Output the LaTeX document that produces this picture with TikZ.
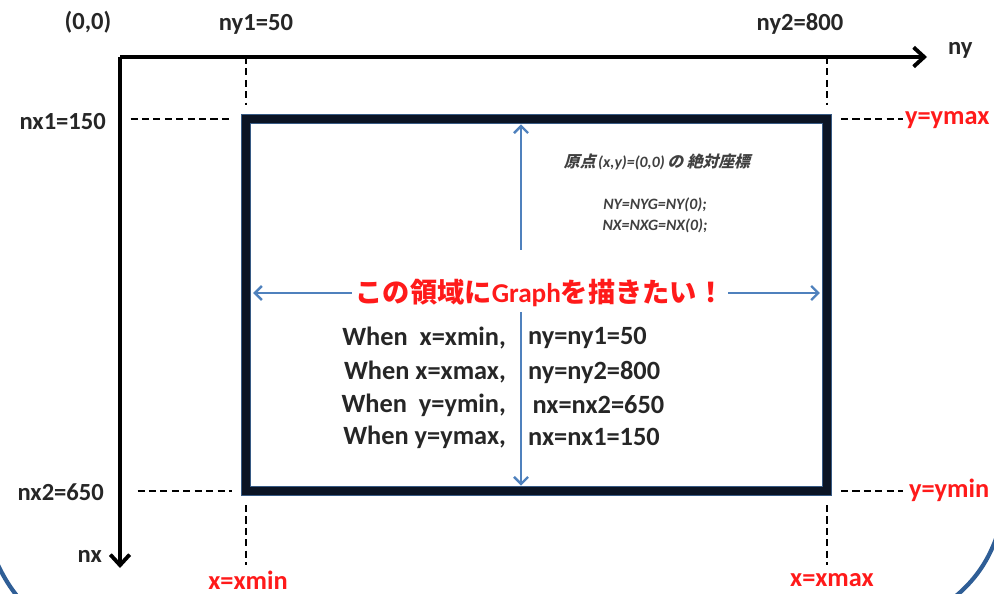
\documentclass[tikz,border=0pt]{standalone}
\usepackage{fontspec}
\setmainfont{Carlito}
\newfontfamily\jp{Noto Sans CJK JP}
\newfontfamily\jpit[FakeSlant=0.25]{Noto Sans CJK JP}
\usepackage{xcolor}
\usetikzlibrary{arrows.meta}
\definecolor{frameblue}{HTML}{2F5E96}
\definecolor{arrowblue}{HTML}{4F81BD}
\definecolor{rectdark}{HTML}{0B1424}
\definecolor{labelred}{HTML}{FF1A1A}

\begin{document}
\begin{tikzpicture}[
                    x=0.02cm, y=-0.02cm,
                    lbl/.style={font=\bfseries\fontsize{14}{16}\selectfont, text=black!85, inner sep=1pt},
                    redlbl/.style={font=\bfseries\fontsize{15}{17}\selectfont, text=labelred, inner sep=1pt},
                    cond/.style={font=\bfseries\fontsize{15}{17}\selectfont, text=black!85, inner sep=1pt},
                    note/.style={font=\bfseries\itshape\fontsize{9}{11}\selectfont, text=black!75, inner sep=1pt},
                    goal style/.style={font=\bfseries\fontsize{15.5}{18}\selectfont, text=labelred, inner sep=2pt},
                    axis/.style={draw=black, line width=2.2pt, -{Straight Barb[length=6pt,width=11pt,line width=2.2pt]}},
                    guide/.style={draw=black, line width=1.4pt, dash pattern=on 4pt off 2.5pt},
                    blue arrow/.style={draw=arrowblue, line width=1.4pt, -{Straight Barb[length=4pt,width=8pt,line width=1.4pt]}},
                    frame/.style={draw=frameblue, line width=2.4pt}
                ]
    \useasboundingbox (0,0) rectangle (994,594);

    \begin{scope}
        \clip (0,0) rectangle (994,594);
        \draw[frame] (-6,556) .. controls (2,575) and (10,588) .. (22,602);
        \draw[frame] (1002,520) .. controls (992,556) and (978,580) .. (946,604);
    \end{scope}

    \coordinate (o) at (120,57);
    \coordinate (yend) at (927,57);
    \coordinate (xend) at (120,568);
    \coordinate (tl) at (246,119);
    \coordinate (br) at (827,491);

    \draw[axis] (o) -- (yend);
    \draw[axis] (o) -- (xend);

    \draw[guide] (tl |- o) -- ([yshift=8]tl);
    \draw[guide] (br |- o) -- ([yshift=8]br |- tl);
    \draw[guide] ([yshift=-8]tl |- br) -- ++(0,60);
    \draw[guide] ([yshift=-8]br) -- ++(0,60);
    \draw[guide] ([xshift=6]o |- tl) -- ([xshift=-8]tl);
    \draw[guide] ([xshift=10]o |- br) -- ([xshift=-8]tl |- br);
    \draw[guide] ([xshift=8]br |- tl) -- ++(62,0);
    \draw[guide] ([xshift=8]br) -- ++(62,0);

    \draw[line width=6pt, arrowblue!70!black] (tl) rectangle (br);
    \draw[line width=4.4pt, rectdark] (tl) rectangle (br);

    \node[lbl] (orig) at (88,22) {(0,0)};
    \node[lbl] (ny1) at (256,24) {ny1=50};
    \node[lbl] (ny2) at (800,24) {ny2=800};
    \node[lbl, anchor=west] (nyname) at (946,50) {ny};
    \node[lbl, anchor=east] (nx1) at (108,122) {nx1=150};
    \node[lbl, anchor=east] (nx2) at (106,492) {nx2=650};
    \node[lbl, anchor=east] (nxname) at (104,556) {nx};
    \node[redlbl, anchor=west] (ymax) at (903,120) {y=ymax};
    \node[redlbl, anchor=west] (ymin) at (907,490) {y=ymin};
    \node[redlbl] (xmin) at (248,580) {x=xmin};
    \node[redlbl] (xmax) at (832,580) {x=xmax};

    \node[note] (origin) at (657,162) {{\jpit 原点}\,(x,y)=(0,0)\,{\jpit の 絶対座標}};
    \node[note] (nyg) at (655,205) {NY=NYG=NY(0);};
    \node[note] (nxg) at (655,226) {NX=NXG=NX(0);};

    \node[goal style] (goal) at (540,293) {\jp この領域に{\rmfamily Graph}を描きたい！};

    \coordinate (up) at (521,250);
    \coordinate (down) at (521,312);
    \draw[blue arrow] (up) -- ([yshift=-3]up |- tl);
    \draw[blue arrow] (down) -- ([yshift=3]down |- br);
    \draw[blue arrow] (goal.west) -- ([xshift=4]tl |- goal);
    \draw[blue arrow] (goal.east) -- ([xshift=-4]br |- goal);

    \foreach \y/\when/\val [count=\i] in {338/{When\ \ x=xmin,}/{ny=ny1=50},
                                            372/{When x=xmax,}/{ny=ny2=800},
                                            405/{When\ \ y=ymin,}/{\,nx=nx2=650},
                                            437/{When y=ymax,}/{nx=nx1=150}} {
        \node[cond, anchor=east] (when\i) at (508,\y) {\when};
        \node[cond, anchor=west] (val\i) at (526,\y) {\val};
    }
\end{tikzpicture}
\end{document}
